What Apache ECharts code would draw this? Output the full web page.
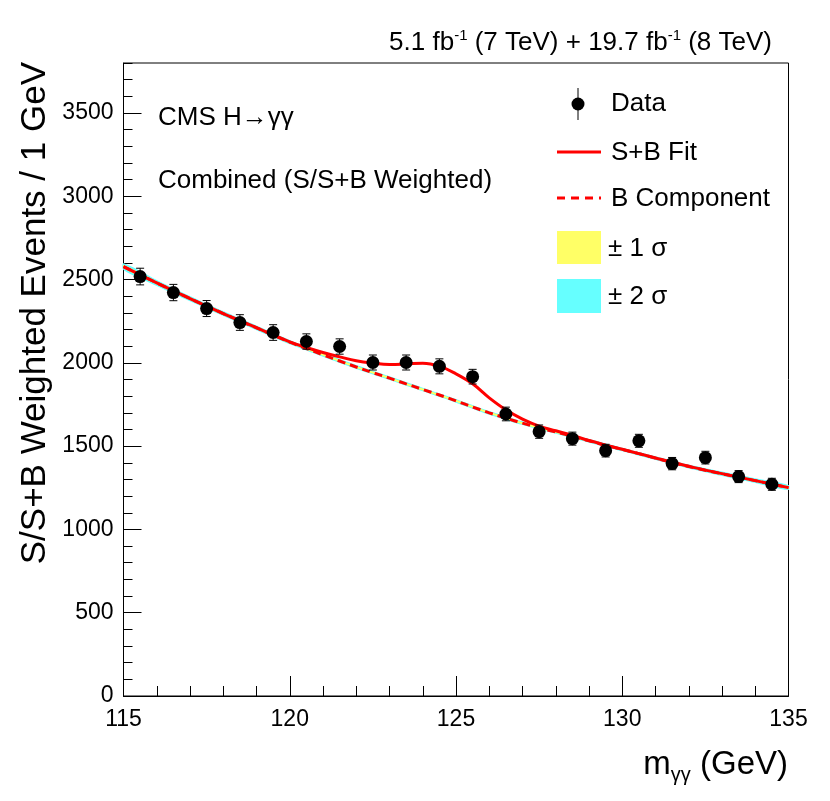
<!DOCTYPE html>
<html><head><meta charset="utf-8">
<script src="https://cdn.jsdelivr.net/npm/echarts@6/dist/echarts.min.js"></script>
<style>html,body{margin:0;padding:0;background:#fff}#c{width:830px;height:801px}</style>
</head><body><div id="c"></div>
<script>
// ---- data ----
const massBins = [115.5,116.5,117.5,118.5,119.5,120.5,121.5,122.5,123.5,124.5,125.5,126.5,127.5,128.5,129.5,130.5,131.5,132.5,133.5,134.5];
const dataValues = [2518,2422,2326,2242,2182,2128,2098,2002,2002,1979,1917,1693,1587,1545,1473,1532,1395,1431,1317,1271];
const dataErrors = [50,49,48,47,47,46,46,45,45,45,44,41,40,39,38,39,37,38,36,36];

const fitMass = [115,115.5,116,116.5,117,117.5,118,118.5,119,119.5,120,120.5,121,121.5,122,122.5,123,123.5,124,124.5,125,125.5,126,126.5,127,127.5,128,128.5,129,129.5,130,130.5,131,131.5,132,132.5,133,133.5,134,134.5,135];
const sbFit = [2578,2529,2480,2433,2386,2341,2296,2253,2211,2168,2126,2092,2062,2036,2012,1998,1990,1993,1998,1980,1934,1874,1790,1718,1662,1620,1592,1564,1534,1506,1481,1455,1429,1403,1379,1356,1335,1314,1293,1272,1251];
const bFit  = [2578,2529,2480,2433,2386,2341,2296,2253,2210,2167,2124,2086,2048,2011,1975,1941,1908,1874,1840,1807,1772,1735,1700,1668,1638,1610,1585,1560,1532,1505,1480,1455,1428,1402,1378,1355,1334,1314,1293,1272,1251];

const bandMass  = [115,116,117,118,119,120,121,122,123,124,125,126,127,128,129,130,131,132,133,134,135];
const oneSigma  = [10,9,8,8,7,7,6,6,6,6,6,6,6,6,6,6,6,6,7,7,8];
const twoSigma  = [20,18,16,15,14,13,12,12,11,11,11,11,11,11,11,11,12,12,13,14,15];

const xTicks = {min:115, max:135, step:5};
const yTicks = {min:0, max:3800, step:500, minor:100};

// ---- chart ----
const FONT = '"Liberation Sans", Arial, Helvetica, sans-serif';
const chart = echarts.init(document.getElementById('c'), null, {renderer:'canvas'});

function bAt(m){ const i = fitMass.indexOf(m); return bFit[i]; }

function bandItem(sigArr, color){
  return {
    type:'custom', coordinateSystem:'cartesian2d', silent:true, z:1,
    data:[[bandMass[0], bAt(bandMass[0])]],
    renderItem:function(params, api){
      const up=[], dn=[];
      for(let i=0;i<bandMass.length;i++){
        const b=bAt(bandMass[i]);
        up.push(api.coord([bandMass[i], b+sigArr[i]]));
        dn.push(api.coord([bandMass[i], b-sigArr[i]]));
      }
      return {type:'polygon', shape:{points:up.concat(dn.reverse()), smooth:0.3}, style:{fill:color, stroke:null}};
    }
  };
}

const sbData = fitMass.map((m,i)=>[m, sbFit[i]]);
const bData = fitMass.map((m,i)=>[m, bFit[i]]);
const ptsData = massBins.map((m,i)=>[m, dataValues[i], dataErrors[i]]);

const TXT = (x,y,text,size,align)=>({type:'text', x:x, y:y, style:{text:text, align:align||'left', verticalAlign:'middle', textAlign:align||'left', textVerticalAlign:'middle', font:size+'px '+FONT, fill:'#000'}});

const option = {
  animation:false,
  backgroundColor:'#ffffff',
  grid:{left:123.5, right:41.5, top:63, bottom:105, show:true, borderColor:'#000', borderWidth:1, backgroundColor:'transparent'},
  xAxis:{
    type:'value', min:xTicks.min, max:xTicks.max, interval:xTicks.step,
    axisLine:{show:true, onZero:false, lineStyle:{color:'#000', width:1}},
    axisTick:{show:true, inside:true, length:20, lineStyle:{color:'#000', width:1}},
    minorTick:{show:true, splitNumber:5, length:10, lineStyle:{color:'#000', width:1}},
    axisLabel:{color:'#000', fontSize:23, fontFamily:FONT, margin:12, formatter:v=>String(v)},
    splitLine:{show:false}, minorSplitLine:{show:false}
  },
  yAxis:[{
    type:'value', min:yTicks.min, max:yTicks.max, interval:yTicks.step,
    axisLine:{show:true, onZero:false, lineStyle:{color:'#000', width:1}},
    axisTick:{show:true, inside:true, length:18, lineStyle:{color:'#000', width:1}},
    axisLabel:{color:'#000', fontSize:23, fontFamily:FONT, margin:10, showMaxLabel:false, formatter:v=>String(v)},
    splitLine:{show:false}
  },{
    type:'value', min:yTicks.min, max:yTicks.max, interval:yTicks.minor, position:'left',
    axisLine:{show:false},
    axisTick:{show:true, inside:true, length:9, lineStyle:{color:'#000', width:1}},
    axisLabel:{show:false}, splitLine:{show:false}
  }],
  series:[
    bandItem(twoSigma, '#66ffff'),
    bandItem(oneSigma, '#ffff66'),
    {type:'line', data:bData, showSymbol:false, smooth:0.4, z:3, silent:true,
     lineStyle:{color:'#ff0000', width:3, type:[8,5]}},
    {type:'line', data:sbData, showSymbol:false, smooth:0.4, z:4, silent:true,
     lineStyle:{color:'#ff0000', width:3}},
    {type:'custom', z:10, silent:true, data:ptsData,
     renderItem:function(params, api){
       const x=api.value(0), y=api.value(1), e=api.value(2);
       const c=api.coord([x,y]), hi=api.coord([x,y+e]), lo=api.coord([x,y-e]);
       const cap=4;
       return {type:'group', children:[
         {type:'line', shape:{x1:c[0],y1:hi[1],x2:c[0],y2:lo[1]}, style:{stroke:'#000', lineWidth:1}},
         {type:'line', shape:{x1:c[0]-cap,y1:hi[1],x2:c[0]+cap,y2:hi[1]}, style:{stroke:'#000', lineWidth:1}},
         {type:'line', shape:{x1:c[0]-cap,y1:lo[1],x2:c[0]+cap,y2:lo[1]}, style:{stroke:'#000', lineWidth:1}},
         {type:'circle', shape:{cx:c[0], cy:c[1], r:6.5}, style:{fill:'#000'}}
       ]};
     }}
  ],
  graphic:[
    {type:'text', x:772, y:43, style:{text:'5.1 fb{s|-1} (7 TeV) + 19.7 fb{s|-1} (8 TeV)', align:'right', verticalAlign:'middle', textAlign:'right', textVerticalAlign:'middle', font:'26px '+FONT, fill:'#000',
      rich:{s:{fontSize:15, fontFamily:FONT, verticalAlign:'top', lineHeight:30, fill:'#000'}}}},
    {type:'text', x:35, y:62, rotation:Math.PI/2, style:{text:'S/S+B Weighted Events / 1 GeV', align:'right', verticalAlign:'middle', textAlign:'right', textVerticalAlign:'middle', font:'35px '+FONT, fill:'#000'}},
    {type:'text', x:788, y:765, style:{text:'m{sub|γγ} (GeV)', align:'right', verticalAlign:'middle', textAlign:'right', textVerticalAlign:'middle', font:'33px '+FONT, fill:'#000',
      rich:{sub:{fontSize:20, fontFamily:FONT, verticalAlign:'bottom', lineHeight:40, fill:'#000'}}}},
    TXT(158,118,'CMS H→γγ',26),
    TXT(158,181,'Combined (S/S+B Weighted)',26),
    // legend
    {type:'line', shape:{x1:578,y1:88,x2:578,y2:120}, style:{stroke:'#000', lineWidth:1}},
    {type:'circle', shape:{cx:578, cy:104, r:6.5}, style:{fill:'#000'}},
    TXT(611,104,'Data',26),
    {type:'line', shape:{x1:557,y1:152,x2:601,y2:152}, style:{stroke:'#ff0000', lineWidth:3}},
    TXT(611,153,'S+B Fit',26),
    {type:'line', shape:{x1:557,y1:198,x2:601,y2:198}, style:{stroke:'#ff0000', lineWidth:3, lineDash:[8,6]}},
    TXT(611,199,'B Component',26),
    {type:'rect', shape:{x:557, y:231, width:44, height:33}, style:{fill:'#ffff66'}},
    TXT(608,249,'± 1 σ',26),
    {type:'rect', shape:{x:557, y:279, width:44, height:34}, style:{fill:'#66ffff'}},
    TXT(608,297,'± 2 σ',26)
  ]
};
chart.setOption(option);
</script></body></html>
